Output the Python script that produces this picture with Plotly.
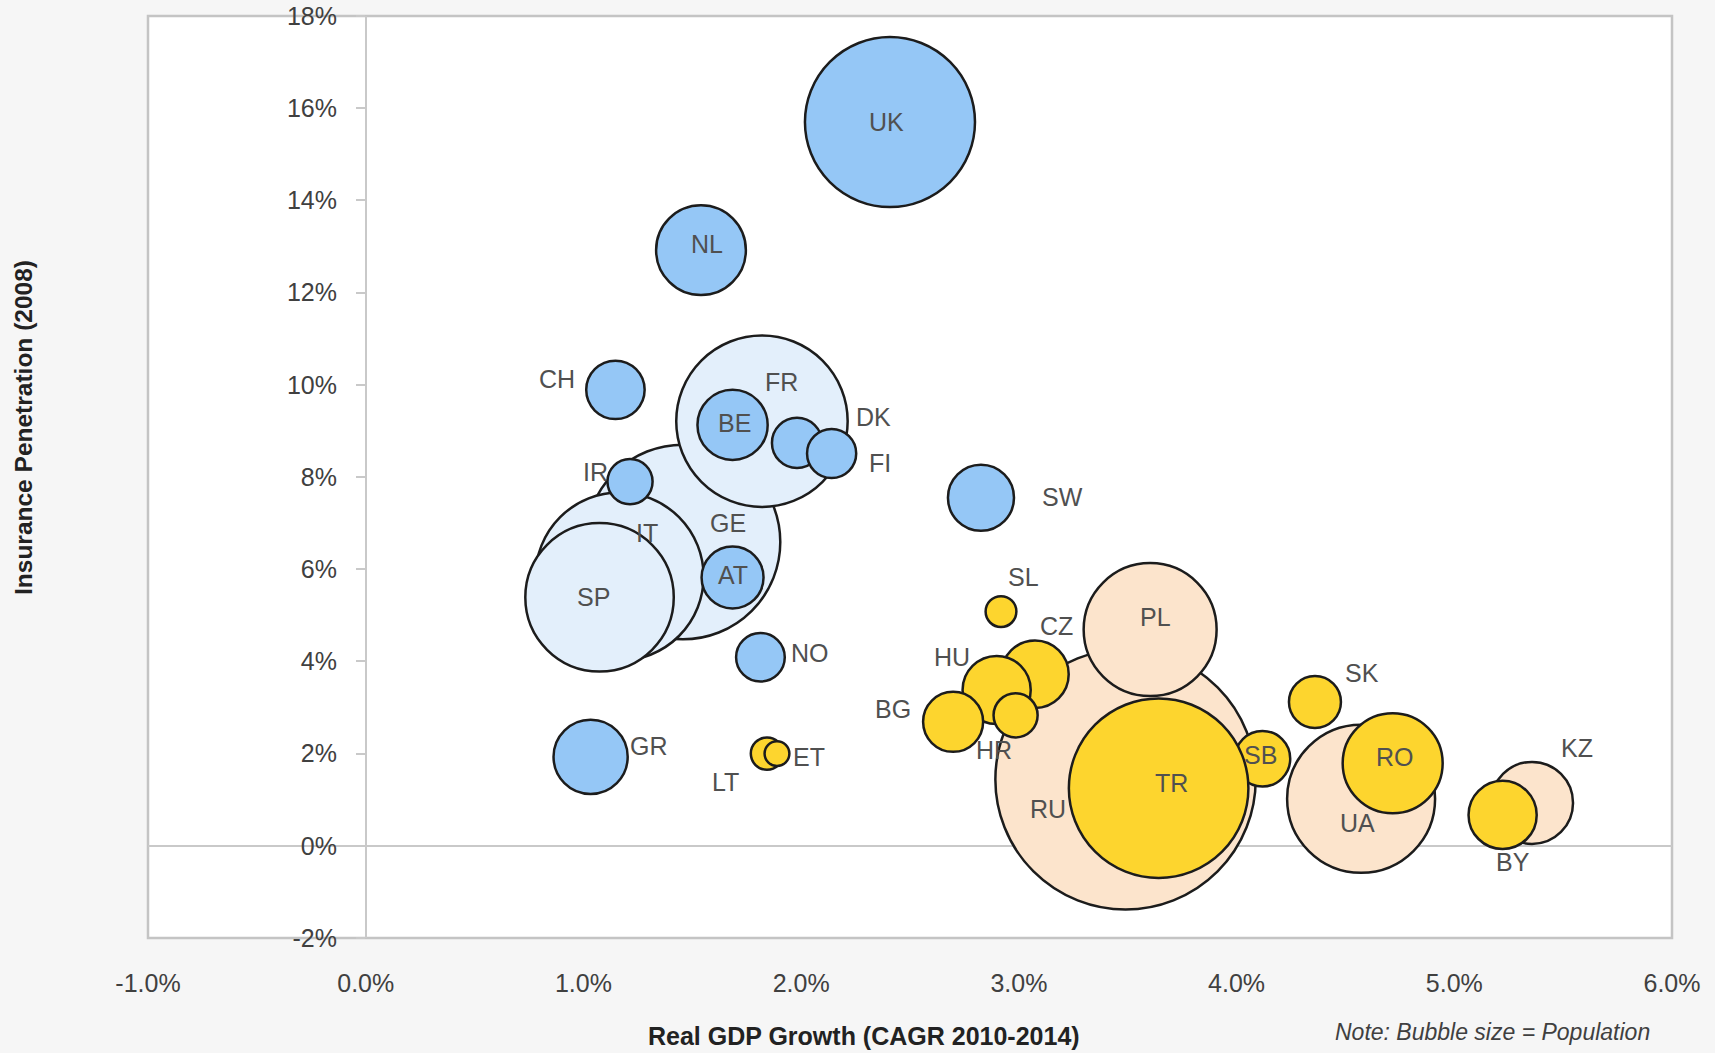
import plotly.graph_objects as go

# ---- data ----
countries = ["GE", "FR", "IT", "SP",
             "UK", "NL", "CH", "BE", "DK", "FI", "IR", "AT", "NO", "GR", "SW",
             "RU", "PL", "UA", "KZ",
             "SB", "TR", "CZ", "HU", "BG", "HR", "SL", "SK", "RO", "BY", "LT", "ET"]
gdp_growth = [1.457, 1.82, 1.166, 1.074,
              2.408, 1.54, 1.147, 1.685, 1.981, 2.14, 1.214, 1.685, 1.813, 1.033, 2.826,
              3.49, 3.603, 4.572, 5.357,
              4.119, 3.642, 3.074, 2.898, 2.698, 2.985, 2.918, 4.36, 4.717, 5.222, 1.843, 1.889]
penetration = [6.59, 9.21, 5.84, 5.39,
               15.70, 12.92, 9.89, 9.13, 8.74, 8.51, 7.90, 5.82, 4.09, 1.93, 7.55,
               1.44, 4.69, 1.02, 0.93,
               1.89, 1.25, 3.72, 3.38, 2.69, 2.83, 5.08, 3.12, 1.79, 0.67, 2.00, 2.00]
population = [80.0, 62.0, 59.6, 46.5,
              61.0, 17.0, 7.2, 10.4, 5.3, 5.1, 4.3, 8.1, 5.0, 11.6, 9.2,
              143.0, 37.3, 46.2, 14.2,
              6.5, 68.0, 9.6, 9.8, 7.6, 4.1, 2.0, 5.7, 21.1, 9.8, 2.2, 1.3]
group = ["pale", "pale", "pale", "pale",
         "blue", "blue", "blue", "blue", "blue", "blue", "blue", "blue", "blue", "blue", "blue",
         "peach", "peach", "peach", "peach",
         "yellow", "yellow", "yellow", "yellow", "yellow", "yellow", "yellow", "yellow", "yellow",
         "yellow", "yellow", "yellow"]

x_ticks = [-1, 0, 1, 2, 3, 4, 5, 6]
x_tick_labels = ["-1.0%", "0.0%", "1.0%", "2.0%", "3.0%", "4.0%", "5.0%", "6.0%"]
y_ticks = [-2, 0, 2, 4, 6, 8, 10, 12, 14, 16, 18]
y_tick_labels = ["-2%", "0%", "2%", "4%", "6%", "8%", "10%", "12%", "14%", "16%", "18%"]

x_title = "Real GDP Growth (CAGR 2010-2014)"
y_title = "Insurance Penetration (2008)"
note = "Note: Bubble size = Population"

# ---- styling ----
fills = {"pale": "#E3EFFB", "blue": "#95C7F6", "peach": "#FCE4CC", "yellow": "#FDD52E"}
label_offsets = {  # pixel offsets (dx, dy-up) of each label from its bubble centre
    "UK": (-3, 0), "NL": (6, 6), "CH": (-58, 11), "FR": (20, 39), "BE": (2, 2),
    "DK": (76, 26), "FI": (48, -10), "IR": (-35, 10), "GE": (45, 19), "IT": (27, 44),
    "SP": (-6, 0), "AT": (0, 3), "NO": (50, 4), "GR": (58, 11), "SW": (82, 1),
    "LT": (-41, -28), "ET": (32, -3), "SL": (22, 35), "CZ": (22, 48), "HU": (-45, 33),
    "HR": (-22, -35), "BG": (-60, 13), "PL": (5, 13), "RU": (-78, -30), "TR": (13, 5),
    "SB": (-2, 4), "SK": (47, 29), "UA": (-4, -24), "RO": (2, 6), "KZ": (45, 55),
    "BY": (10, -47),
}
FONT = "Liberation Sans, Arial, sans-serif"
GRID = "#c9c9c9"
SIZEREF = 1.0 / (2 * 118.5)

fig = go.Figure()
for g in ["pale", "blue", "peach", "yellow"]:
    idx = [i for i, gg in enumerate(group) if gg == g]
    fig.add_trace(go.Scatter(
        x=[gdp_growth[i] for i in idx],
        y=[penetration[i] for i in idx],
        mode="markers",
        marker=dict(size=[population[i] for i in idx], sizemode="area", sizeref=SIZEREF,
                    color=fills[g], opacity=1, line=dict(color="#1c1c1c", width=2.5)),
        hovertext=[countries[i] for i in idx],
        showlegend=False,
    ))

annotations = []
for c, xv, yv in zip(countries, gdp_growth, penetration):
    dx, dy = label_offsets[c]
    annotations.append(dict(x=xv, y=yv, xref="x", yref="y", text=c, showarrow=False,
                            xshift=dx, yshift=dy,
                            font=dict(family=FONT, size=25, color="#505050")))

L, R, T, B = 148, 43, 16, 115
W, H = 1715, 1053
pw, ph = W - L - R, H - T - B

annotations.append(dict(text="<b>" + y_title + "</b>", xref="paper", yref="paper",
                        x=(24 - L) / pw, y=(T + ph - 428) / ph, textangle=-90,
                        showarrow=False, xanchor="center", yanchor="middle",
                        font=dict(family=FONT, size=24.5, color="#222222")))
annotations.append(dict(text="<b>" + x_title + "</b>", xref="paper", yref="paper",
                        x=(864 - L) / pw, y=(T + ph - 1036) / ph,
                        showarrow=False, xanchor="center", yanchor="middle",
                        font=dict(family=FONT, size=25, color="#222222")))
annotations.append(dict(text="<i>" + note + "</i>", xref="paper", yref="paper",
                        x=(1492 - L) / pw, y=(T + ph - 1032) / ph,
                        showarrow=False, xanchor="center", yanchor="middle",
                        font=dict(family=FONT, size=23, color="#404040")))

x_min, x_max = x_ticks[0], x_ticks[-1]
fig.update_layout(
    width=W, height=H,
    margin=dict(l=L, r=R, t=T, b=B, autoexpand=False),
    paper_bgcolor="#f6f6f6", plot_bgcolor="#ffffff",
    font=dict(family=FONT, color="#404040"),
    xaxis=dict(range=[x_min, x_max], tickvals=x_ticks, ticktext=x_tick_labels,
               showgrid=False, zeroline=False, showline=False, ticks="",
               automargin=False,
               ticklabelstandoff=28, tickfont=dict(size=25, color="#404040")),
    yaxis=dict(range=[y_ticks[0], y_ticks[-1]], tickvals=y_ticks, ticktext=y_tick_labels,
               anchor="free", position=(0 - x_min) / (x_max - x_min), automargin=False,
               showgrid=False, showline=True, linecolor=GRID, linewidth=1.5,
               zeroline=True, zerolinecolor=GRID, zerolinewidth=1.5,
               ticks="outside", ticklen=9, tickcolor=GRID, tickwidth=1.5,
               ticklabelstandoff=14, tickfont=dict(size=25, color="#404040")),
    shapes=[dict(type="rect", xref="paper", yref="paper", x0=0, x1=1, y0=0, y1=1,
                 line=dict(color="#c4c4c4", width=2.5), layer="below")],
    annotations=annotations,
    hovermode="closest",
)

fig.write_html("out.html")
